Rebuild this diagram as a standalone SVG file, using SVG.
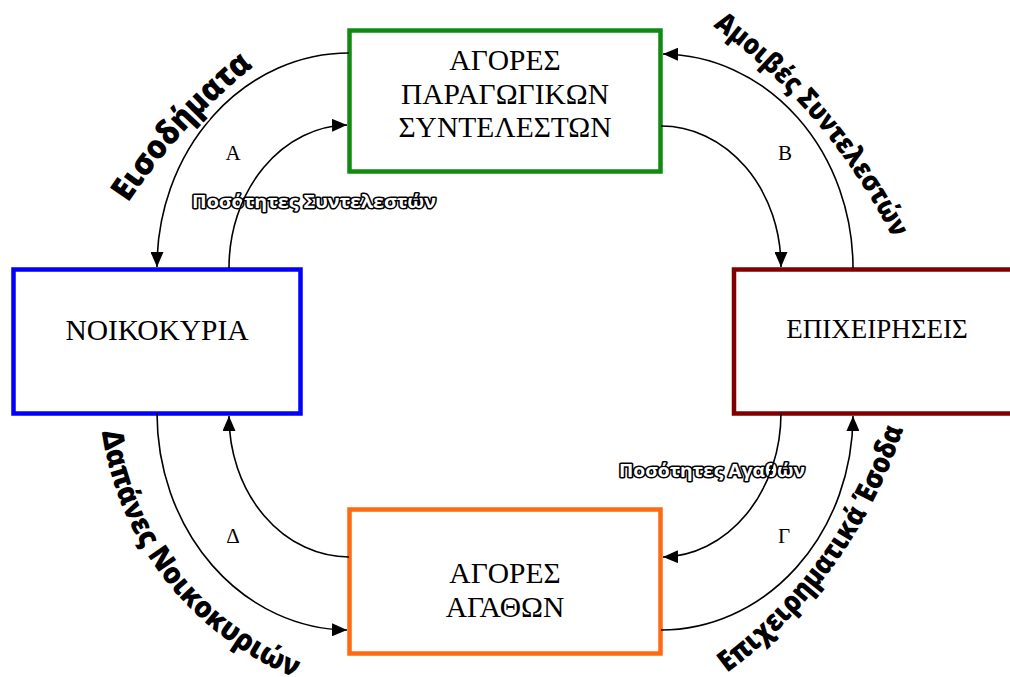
<svg xmlns="http://www.w3.org/2000/svg" width="1010" height="677" viewBox="0 0 1010 677">
<style>
.box{fill:#fff;stroke-width:4.5}
.bt{font-family:"Liberation Serif","Times New Roman",serif;font-size:29.5px;fill:#000;text-anchor:middle}
.lt{font-family:"Liberation Serif","Times New Roman",serif;font-size:21px;fill:#000;text-anchor:middle}
.con{fill:none;stroke:#000;stroke-width:1.6}
.ol{font-family:"Open Sans","DejaVu Sans",sans-serif;font-weight:700;font-size:17.5px;fill:#fff;stroke:#000;stroke-width:3;paint-order:stroke;stroke-linejoin:round;text-anchor:middle}
.arc{font-family:"Open Sans","DejaVu Sans",sans-serif;font-weight:800;fill:#000;stroke:#fff;stroke-width:4;paint-order:stroke;stroke-linejoin:round}
</style>
<defs>
<marker id="ah" markerUnits="userSpaceOnUse" markerWidth="15" markerHeight="13" refX="15" refY="6.5" orient="auto">
<path d="M0,0 L15,6.5 L0,13 z" fill="#000"/>
</marker>
<path id="p1" d="M128,203 A626.7 626.7 0 0 1 254,66"/>
<path id="p2" d="M713,26 A594.6 594.6 0 0 1 893,239"/>
<path id="p3" d="M102,432 A312 312 0 0 0 296,678"/>
<path id="p4" d="M727,673 A491 491 0 0 0 904,427"/>
</defs>
<rect width="1010" height="677" fill="#fff"/>

<g id="node-agores-paragogikon">
<rect class="box" x="349.5" y="30.5" width="311" height="141" stroke="#118a11"/>
<text class="bt" x="505" y="70">ΑΓΟΡΕΣ</text>
<text class="bt" x="505" y="104">ΠΑΡΑΓΩΓΙΚΩΝ</text>
<text class="bt" x="505" y="137">ΣΥΝΤΕΛΕΣΤΩΝ</text>
</g>
<g id="node-noikokyria">
<rect class="box" x="13.5" y="269.5" width="287" height="144" stroke="#0000ff"/>
<text class="bt" x="157" y="340">ΝΟΙΚΟΚΥΡΙΑ</text>
</g>
<g id="node-epixeiriseis">
<rect class="box" x="734" y="269.5" width="300" height="144" stroke="#800000"/>
<text class="bt" x="877" y="338" style="font-size:27px">ΕΠΙΧΕΙΡΗΣΕΙΣ</text>
</g>
<g id="node-agores-agathon">
<rect class="box" x="349.5" y="509.5" width="311" height="144" stroke="#ff6a10"/>
<text class="bt" x="505" y="583">ΑΓΟΡΕΣ</text>
<text class="bt" x="505" y="617">ΑΓΑΘΩΝ</text>
</g>

<g id="flow-labels">
<text class="ol" x="314" y="208" textLength="244" lengthAdjust="spacingAndGlyphs">Ποσότητες Συντελεστών</text>
<text class="ol" x="712" y="477" textLength="186" lengthAdjust="spacingAndGlyphs">Ποσότητες Αγαθών</text>
</g>

<g id="connectors">
<path class="con" d="M349,53 A192 214 0 0 0 157,267" marker-end="url(#ah)"/>
<path class="con" d="M229,268 A120 143 0 0 1 347,125" marker-end="url(#ah)"/>
<path class="con" d="M661,126 A120 141 0 0 1 781,267" marker-end="url(#ah)"/>
<path class="con" d="M853,268 A192 214 0 0 0 663,54" marker-end="url(#ah)"/>
<path class="con" d="M781,413 A120 144 0 0 1 663,557" marker-end="url(#ah)"/>
<path class="con" d="M661,630 A192 215 0 0 0 853,416" marker-end="url(#ah)"/>
<path class="con" d="M157,413 A192 217 0 0 0 347,630" marker-end="url(#ah)"/>
<path class="con" d="M349,557 A120 141 0 0 1 229,416" marker-end="url(#ah)"/>
</g>

<g id="quadrant-labels">
<text class="lt" x="233" y="160">Α</text>
<text class="lt" x="785" y="160">Β</text>
<text class="lt" x="784" y="543">Γ</text>
<text class="lt" x="233" y="543">Δ</text>
</g>

<g id="arc-labels">
<text class="arc" style="font-size:33px"><textPath href="#p1" textLength="186" lengthAdjust="spacingAndGlyphs">Εισοδήματα</textPath></text>
<text class="arc" style="font-size:28px"><textPath href="#p2" textLength="281" lengthAdjust="spacingAndGlyphs">Αμοιβές Συντελεστών</textPath></text>
<text class="arc" style="font-size:29.5px"><textPath href="#p3" textLength="327" lengthAdjust="spacingAndGlyphs">Δαπάνες Νοικοκυριών</textPath></text>
<text class="arc" style="font-size:29px"><textPath href="#p4" textLength="306" lengthAdjust="spacingAndGlyphs">Επιχειρηματικά Έσοδα</textPath></text>
</g>
</svg>
